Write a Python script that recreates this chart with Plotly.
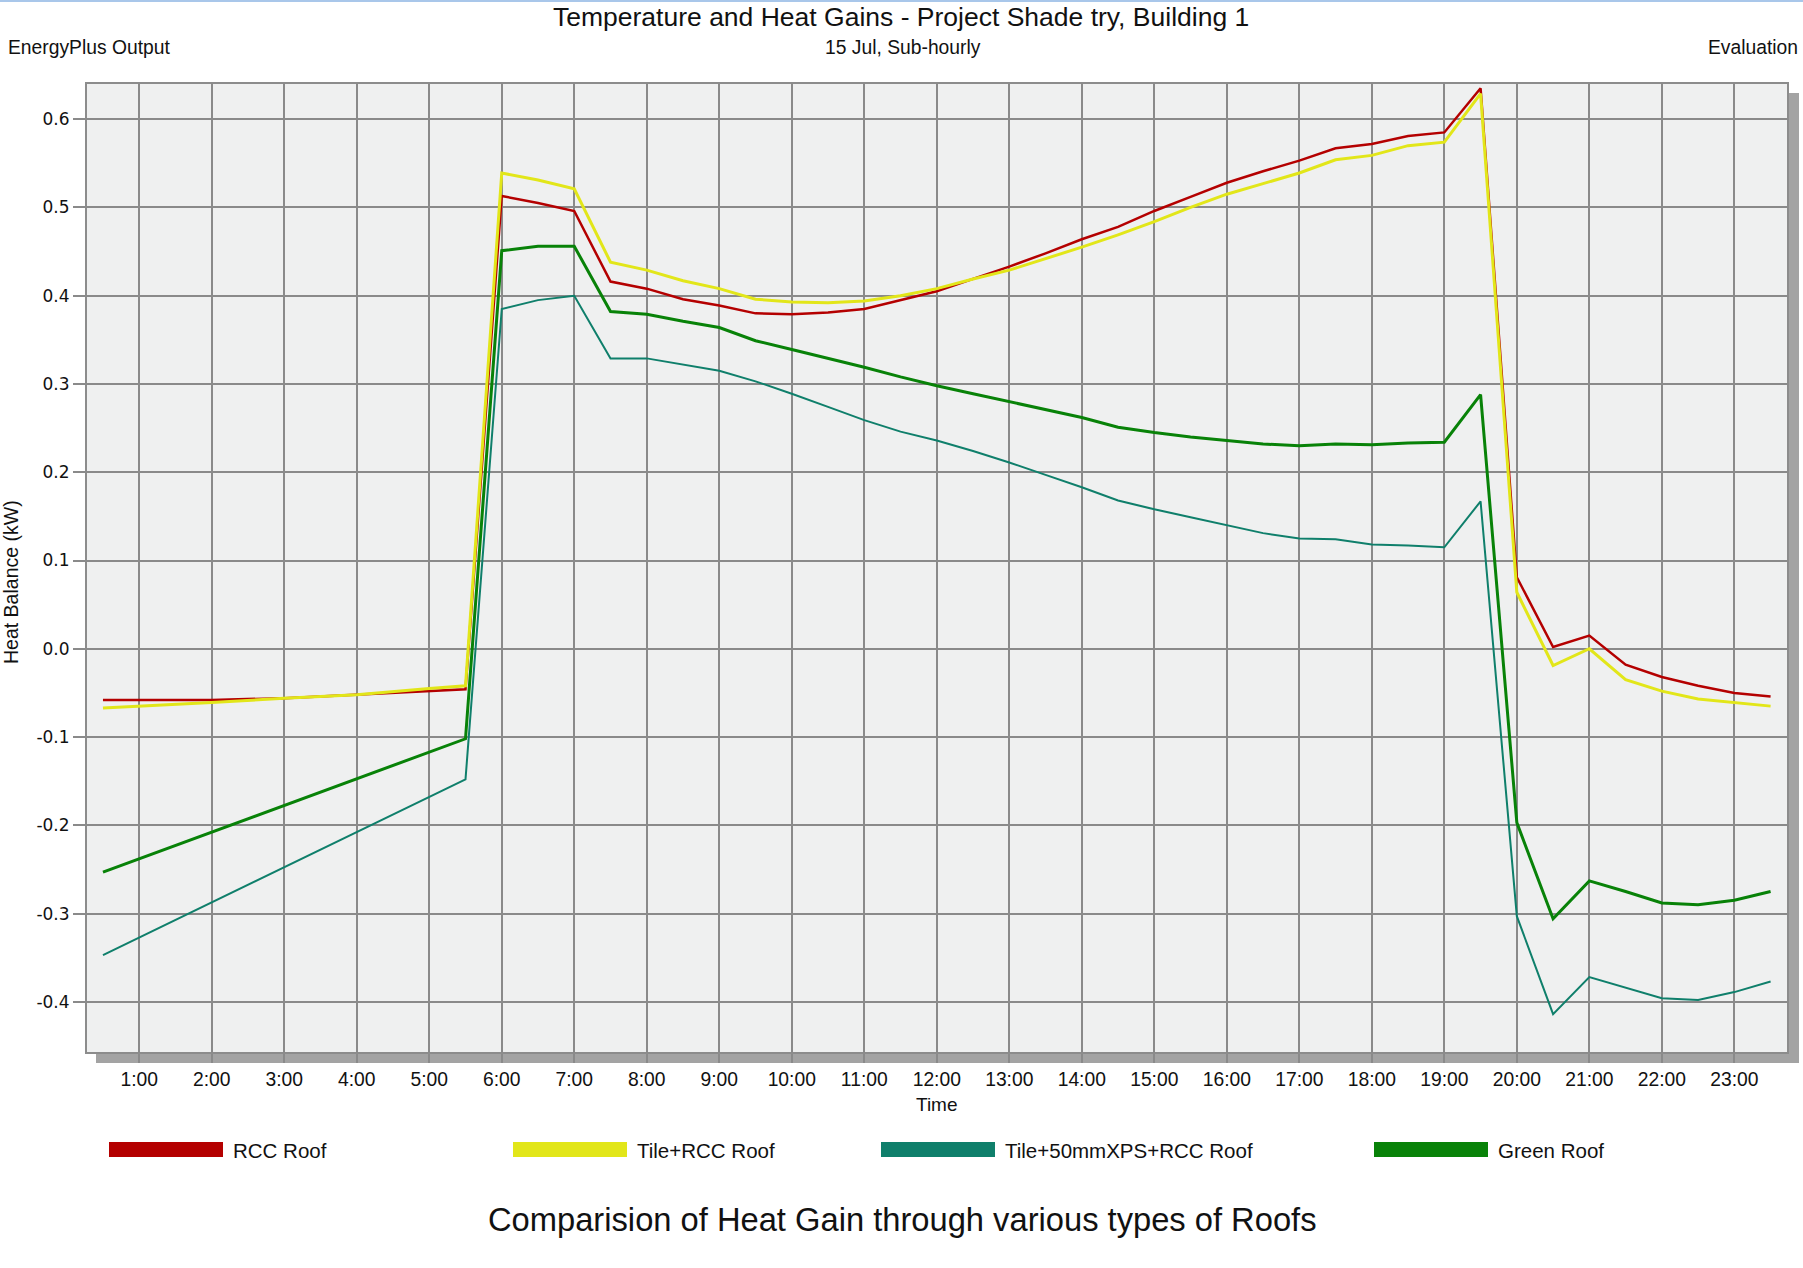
import plotly.graph_objects as go

# ---------------- data ----------------
series_names = ["RCC Roof", "Tile+RCC Roof", "Tile+50mmXPS+RCC Roof", "Green Roof"]

# night-time readings before 5:30
rcc_early_times = ["0:30", "1:00", "2:00", "3:00", "4:00", "5:00"]
rcc_early = [-0.058, -0.058, -0.058, -0.056, -0.052, -0.048]
tile_early_times = ["0:30", "1:00", "2:00", "3:00", "4:00", "5:00"]
tile_early = [-0.067, -0.065, -0.061, -0.056, -0.052, -0.045]
xps_early_times = ["0:30"]
xps_early = [-0.347]
green_early_times = ["0:30"]
green_early = [-0.253]

# half-hourly readings from 5:30 to 23:30
main_times = ["5:30", "6:00", "6:30", "7:00", "7:30", "8:00", "8:30", "9:00", "9:30",
              "10:00", "10:30", "11:00", "11:30", "12:00", "12:30", "13:00", "13:30",
              "14:00", "14:30", "15:00", "15:30", "16:00", "16:30", "17:00", "17:30",
              "18:00", "18:30", "19:00", "19:30", "20:00", "20:30", "21:00", "21:30",
              "22:00", "22:30", "23:00", "23:30"]
rcc_main = [-0.046, 0.513, 0.505, 0.496, 0.416, 0.408, 0.396, 0.389, 0.380, 0.379, 0.381,
            0.385, 0.395, 0.405, 0.419, 0.433, 0.448, 0.464, 0.478, 0.496, 0.512, 0.528,
            0.541, 0.553, 0.567, 0.572, 0.581, 0.585, 0.635, 0.081, 0.002, 0.015, -0.018,
            -0.032, -0.042, -0.050, -0.054]
tile_main = [-0.042, 0.539, 0.531, 0.521, 0.438, 0.429, 0.417, 0.408, 0.396, 0.393, 0.392,
             0.394, 0.400, 0.408, 0.419, 0.429, 0.442, 0.455, 0.469, 0.484, 0.500, 0.515,
             0.527, 0.539, 0.554, 0.559, 0.570, 0.574, 0.629, 0.064, -0.019, 0.000, -0.035,
             -0.048, -0.057, -0.061, -0.065]
xps_main = [-0.148, 0.385, 0.395, 0.400, 0.329, 0.329, 0.322, 0.315, 0.303, 0.289, 0.274,
            0.259, 0.246, 0.236, 0.224, 0.211, 0.197, 0.183, 0.168, 0.158, 0.149, 0.140,
            0.131, 0.125, 0.124, 0.118, 0.117, 0.115, 0.167, -0.303, -0.414, -0.372, -0.384,
            -0.396, -0.398, -0.389, -0.377]
green_main = [-0.102, 0.451, 0.456, 0.456, 0.382, 0.379, 0.371, 0.364, 0.349, 0.339, 0.329,
              0.319, 0.308, 0.298, 0.289, 0.280, 0.271, 0.262, 0.251, 0.245, 0.240, 0.236,
              0.232, 0.230, 0.232, 0.231, 0.233, 0.234, 0.288, -0.197, -0.306, -0.263, -0.275,
              -0.288, -0.290, -0.285, -0.275]

hour_ticks = list(range(1, 24))
hour_labels = [f"{h}:00" for h in hour_ticks]
y_ticks = [0.6, 0.5, 0.4, 0.3, 0.2, 0.1, 0.0, -0.1, -0.2, -0.3, -0.4]
y_labels = ["0.6", "0.5", "0.4", "0.3", "0.2", "0.1", "0.0", "-0.1", "-0.2", "-0.3", "-0.4"]

# ---------------- styles ----------------
colors = ["#b40000", "#e2e619", "#0f7f6b", "#088208"]
widths = [2.5, 3, 2, 3]
FONT = "Liberation Sans, Arial, sans-serif"

W, H = 1803, 1268
L, R, T, B = 86, 1788, 83, 1053
PW, PH = R - L, B - T


def px(x):
    return (x - L) / PW


def py(y):
    return (B - y) / PH


def to_hours(t):
    h, m = t.split(":")
    return int(h) + int(m) / 60


series = [
    (rcc_early_times, rcc_early, rcc_main),
    (tile_early_times, tile_early, tile_main),
    (xps_early_times, xps_early, xps_main),
    (green_early_times, green_early, green_main),
]

fig = go.Figure()
for i, (et, ev, mv) in enumerate(series):
    xs = [to_hours(t) for t in et + main_times]
    fig.add_trace(go.Scatter(
        x=xs, y=ev + mv, mode="lines", name=series_names[i],
        line=dict(color=colors[i], width=widths[i]), showlegend=False,
    ))

shapes = [
    # drop shadow
    dict(type="rect", xref="paper", yref="paper", x0=px(96), x1=px(1799),
         y0=py(1063), y1=py(93), fillcolor="#a3a3a3", line=dict(width=0), layer="below"),
    # plot background with border
    dict(type="rect", xref="paper", yref="paper", x0=0, x1=1, y0=0, y1=1,
         fillcolor="#eff0f0", line=dict(color="#8c8c8c", width=2), layer="below"),
    # window frame line
    dict(type="line", xref="paper", yref="paper", x0=px(0), x1=px(W), y0=py(1), y1=py(1),
         line=dict(color="#a9c7ea", width=2)),
]

annotations = [
    dict(text="Temperature and Heat Gains - Project Shade try, Building 1", x=px(901), y=py(16.5),
         xanchor="center", yanchor="middle", font=dict(size=26.5, color="#111")),
    dict(text="EnergyPlus Output", x=px(6), y=py(48), xanchor="left", yanchor="middle",
         font=dict(size=19.3, color="#111")),
    dict(text="15 Jul, Sub-hourly", x=px(903), y=py(48), xanchor="center", yanchor="middle",
         font=dict(size=19.3, color="#111")),
    dict(text="Evaluation", x=px(1800), y=py(48), xanchor="right", yanchor="middle",
         font=dict(size=19.3, color="#111")),
    dict(text="Heat Balance (kW)", x=px(11), y=py(582), xanchor="center", yanchor="middle",
         textangle=-90, font=dict(size=19.5, color="#111")),
    dict(text="Time", x=px(937), y=py(1104), xanchor="center", yanchor="middle",
         font=dict(size=19, color="#111")),
    dict(text="Comparision of Heat Gain through various types of Roofs", x=px(902), y=py(1219),
         xanchor="center", yanchor="middle", font=dict(size=32.7, color="#111")),
]

legend_x = [109, 513, 881, 1374]
for i, name in enumerate(series_names):
    x0 = legend_x[i]
    shapes.append(dict(type="rect", xref="paper", yref="paper", x0=px(x0), x1=px(x0 + 114),
                       y0=py(1157), y1=py(1142), fillcolor=colors[i], line=dict(width=0)))
    annotations.append(dict(text=name, x=px(x0 + 122), y=py(1150), xanchor="left",
                            yanchor="middle", font=dict(size=20.5, color="#111")))

for a in annotations:
    a.update(xref="paper", yref="paper", showarrow=False)

fig.update_layout(
    width=W, height=H, autosize=False,
    margin=dict(l=L, r=W - R, t=T, b=H - B, pad=0),
    paper_bgcolor="white", plot_bgcolor="rgba(0,0,0,0)",
    font=dict(family=FONT, color="#111"),
    shapes=shapes, annotations=annotations, showlegend=False,
)
fig.update_xaxes(
    range=[0.266, 23.74], tickvals=hour_ticks, ticktext=hour_labels,
    showgrid=True, gridcolor="#8a8a8a", gridwidth=2, zeroline=False, showline=False,
    ticks="outside", ticklen=9, tickwidth=2, tickcolor="#8a8a8a",
    tickfont=dict(size=19.3, family=FONT, color="#111"),
)
fig.update_yaxes(
    range=[-0.458, 0.641], tickvals=y_ticks, ticktext=y_labels,
    showgrid=True, gridcolor="#8a8a8a", gridwidth=2, zeroline=False, showline=False,
    ticks="outside", ticklen=12, tickwidth=2, tickcolor="#8a8a8a",
    tickfont=dict(size=17, family="DejaVu Sans, Verdana, sans-serif", color="#111"),
)

fig.write_html("out.html")
